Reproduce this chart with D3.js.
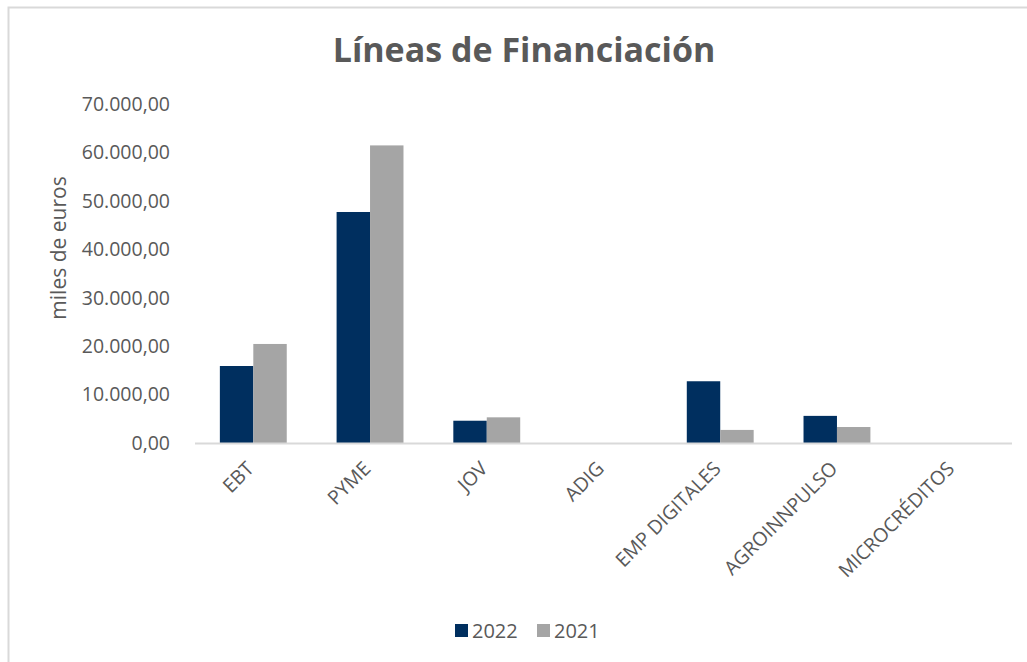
<!DOCTYPE html>
<html>
<head>
<meta charset="utf-8">
<script src="https://cdn.jsdelivr.net/npm/d3@7"></script>
<style>
  html, body { margin: 0; padding: 0; background: #fff; }
  svg { display: block; }
  text { font-family: "Open Sans", Lato, sans-serif; fill: #595959; }
</style>
</head>
<body>
<div id="chart"></div>
<script>
const width = 1027, height = 662;

const categories = ['EBT', 'PYME', 'JOV', 'ADIG', 'EMP DIGITALES', 'AGROINNPULSO', 'MICROCRÉDITOS'];
const series = ['2022', '2021'];
const values2022 = [15900, 47700, 4600, 0, 12750, 5600, 0];
const values2021 = [20450, 61450, 5300, 0, 2700, 3300, 0];
const yTicks = [0, 10000, 20000, 30000, 40000, 50000, 60000, 70000];
const colors = ['#002f5f', '#a5a5a5'];

const margin = {top: 104, right: 15, bottom: 219, left: 195};

const svg = d3.select('#chart').append('svg')
    .attr('width', width)
    .attr('height', height);

// chart border (top + left only visible)
svg.append('path')
    .attr('d', `M8.5,${height} V7.5 H${width}`)
    .attr('fill', 'none')
    .attr('stroke', '#d9d9d9')
    .attr('stroke-width', 2);

const x = d3.scaleBand()
    .domain(categories)
    .range([margin.left, width - margin.right])
    .paddingInner(0.427)
    .paddingOuter(0.213);

const xInner = d3.scaleBand()
    .domain(series)
    .range([0, x.bandwidth()]);

const y = d3.scaleLinear()
    .domain([0, 70000])
    .range([height - margin.bottom, margin.top]);

const fmt = d3.formatLocale({decimal: ',', thousands: '.', grouping: [3], currency: ['', '€']}).format(',.2f');

// title
svg.append('text')
    .attr('x', 524)
    .attr('y', 62)
    .attr('text-anchor', 'middle')
    .style('font-size', '34px')
    .style('font-weight', 'bold')
    .text('Líneas de Financiación');

// y axis labels
svg.append('g').selectAll('text')
    .data(yTicks)
    .join('text')
        .attr('x', 170)
        .attr('y', d => y(d))
        .attr('dy', '0.35em')
        .attr('text-anchor', 'end')
        .style('font-size', '19.5px')
        .text(d => fmt(d));

svg.append('text')
    .attr('transform', `translate(66, 248) rotate(-90)`)
    .attr('text-anchor', 'middle')
    .style('font-size', '21px')
    .text('miles de euros');

// bars
const data = categories.map((c, i) => ({cat: c, vals: [values2022[i], values2021[i]]}));

svg.append('g').selectAll('g')
    .data(data)
    .join('g')
        .attr('transform', d => `translate(${x(d.cat)},0)`)
    .selectAll('rect')
    .data(d => d.vals.map((v, j) => ({key: series[j], v: v, j: j})))
    .join('rect')
        .attr('x', d => xInner(d.key))
        .attr('width', xInner.bandwidth())
        .attr('y', d => y(d.v))
        .attr('height', d => y(0) - y(d.v))
        .attr('fill', d => colors[d.j]);

// x axis line
svg.append('line')
    .attr('x1', margin.left)
    .attr('x2', width - margin.right)
    .attr('y1', y(0) + 0.5)
    .attr('y2', y(0) + 0.5)
    .attr('stroke', '#d9d9d9')
    .attr('stroke-width', 2);

// category labels
svg.append('g').selectAll('text')
    .data(categories)
    .join('text')
        .attr('transform', d => `translate(${x(d) + x.bandwidth() / 2 - 3}, 465) rotate(-45)`)
        .attr('text-anchor', 'end')
        .attr('dy', '0.35em')
        .style('font-size', '19.5px')
        .text(d => d);

// legend
const legend = svg.append('g');
const legendX = [455, 537];
series.forEach((s, i) => {
    legend.append('rect')
        .attr('x', legendX[i])
        .attr('y', 624)
        .attr('width', 13)
        .attr('height', 13)
        .attr('fill', colors[i]);
    legend.append('text')
        .attr('x', legendX[i] + 17)
        .attr('y', 631)
        .attr('dy', '0.35em')
        .style('font-size', '20px')
        .text(s);
});
</script>
</body>
</html>
